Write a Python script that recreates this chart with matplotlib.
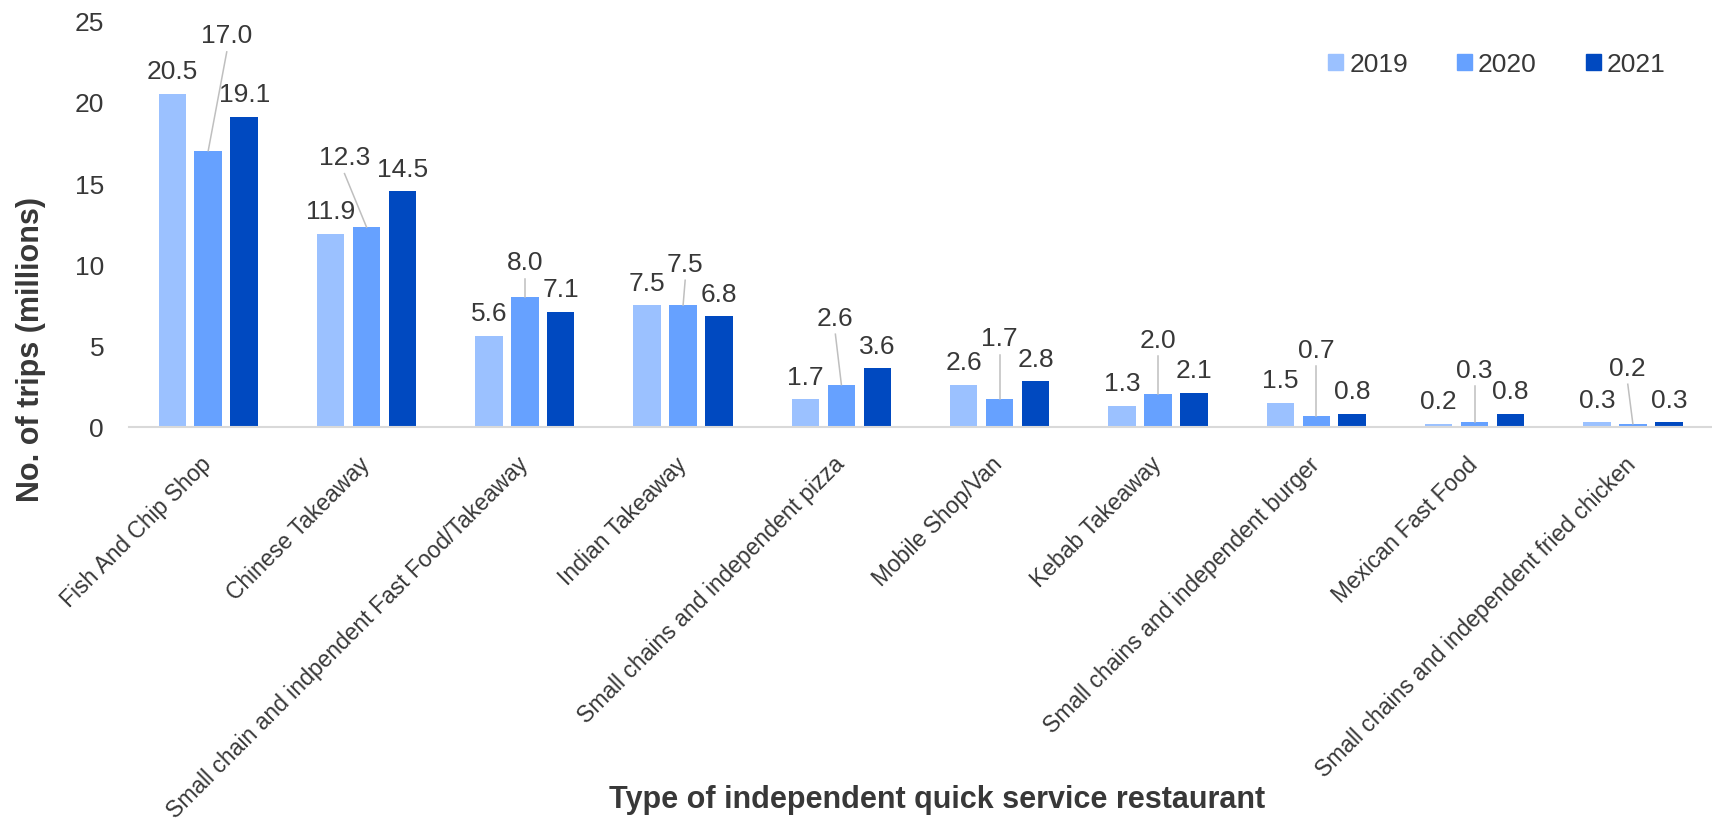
import matplotlib
matplotlib.use("Agg")
import matplotlib.pyplot as plt
from matplotlib.patches import Rectangle
from matplotlib.transforms import ScaledTranslation
import numpy as np

plt.rcParams['font.family'] = ['Liberation Sans', 'DejaVu Sans']

categories = [
    "Fish And Chip Shop",
    "Chinese Takeaway",
    "Small chain and indpendent Fast Food/Takeaway",
    "Indian Takeaway",
    "Small chains and independent pizza",
    "Mobile Shop/Van",
    "Kebab Takeaway",
    "Small chains and independent burger",
    "Mexican Fast Food",
    "Small chains and independent fried chicken",
]
years = ["2019", "2020", "2021"]
trips_2019 = [20.5, 11.9, 5.6, 7.5, 1.7, 2.6, 1.3, 1.5, 0.2, 0.3]
trips_2020 = [17.0, 12.3, 8.0, 7.5, 2.6, 1.7, 2.0, 0.7, 0.3, 0.2]
trips_2021 = [19.1, 14.5, 7.1, 6.8, 3.6, 2.8, 2.1, 0.8, 0.8, 0.3]

# 2020 labels are lifted above their neighbours and joined by a leader line
lift_y_2020 = [24.25, 16.76, 10.28, 10.2, 6.88, 5.6, 5.52, 4.9, 3.69, 3.8]
lift_dx_2020 = [0.117, -0.139, 0.0, 0.013, -0.038, 0.0, 0.0, 0.0, 0.0, -0.032]

colors = ['#9BC1FF', '#66A1FF', '#0049C0']
txt = '#383838'
fs = 19

fig = plt.figure(figsize=(17.12, 8.28), dpi=100)
ax = fig.add_axes([0.0754, 0.4831, 0.9246, 0.4907])

x = np.arange(len(categories))
pitch = 0.227
width = 0.1735
series = [trips_2019, trips_2020, trips_2021]

for i, vals in enumerate(series):
    xs = x + (i - 1) * pitch
    ax.bar(xs, vals, width=width, color=colors[i], zorder=2)
    for j, v in enumerate(vals):
        if i == 1:
            lx = xs[j] + lift_dx_2020[j]
            ly = lift_y_2020[j]
            ax.text(lx, ly, f"{v:.1f}", ha='center', va='center_baseline',
                    fontsize=fs, color=txt)
            ax.plot([lx, xs[j]], [ly - 1.17, v], color='#BFBFBF', lw=1.1,
                    zorder=3)
        else:
            ax.annotate(f"{v:.1f}", (xs[j], v), xytext=(0, 18),
                        textcoords='offset points', ha='center',
                        va='center_baseline', fontsize=fs, color=txt)

ax.set_xlim(-0.5, len(categories) - 0.5)
ax.set_ylim(0, 25)
ax.set_yticks(np.arange(0, 26, 5))
ax.tick_params(axis='y', length=0, pad=18, labelsize=fs, labelcolor=txt)
ax.set_xticks(x)
ax.set_xticklabels(categories, rotation=45, ha='right',
                   rotation_mode='anchor', fontsize=16.5, color=txt)
ax.tick_params(axis='x', length=0, pad=18)
# nudge the slanted labels a little left of the tick
shift = ScaledTranslation(-8.5 / 100, 0, fig.dpi_scale_trans)
for lab in ax.get_xticklabels():
    lab.set_transform(lab.get_transform() + shift)

for s in ['top', 'right', 'left']:
    ax.spines[s].set_visible(False)
ax.spines['bottom'].set_color('#D9D9D9')
ax.spines['bottom'].set_linewidth(1.5)

handles = [Rectangle((0, 0), 1, 1, color=c) for c in colors]
fig.legend(handles, years, loc='center left',
           bbox_to_anchor=(1315 / 1712, 1 - 65.5 / 828), ncol=3,
           frameon=False, fontsize=fs, labelcolor=txt, borderpad=0,
           handlelength=0.57, handleheight=0.57, handletextpad=0.23,
           columnspacing=1.85)

fig.text(30.6 / 1712, 1 - 349.5 / 828, "No. of trips (millions)",
         rotation=90, ha='center', va='center', fontsize=22,
         fontweight='bold', color=txt)
fig.text(937 / 1712, 1 - 800 / 828,
         "Type of independent quick service restaurant",
         ha='center', va='center', fontsize=22, fontweight='bold', color=txt)

fig.savefig("out.png", dpi=100)
